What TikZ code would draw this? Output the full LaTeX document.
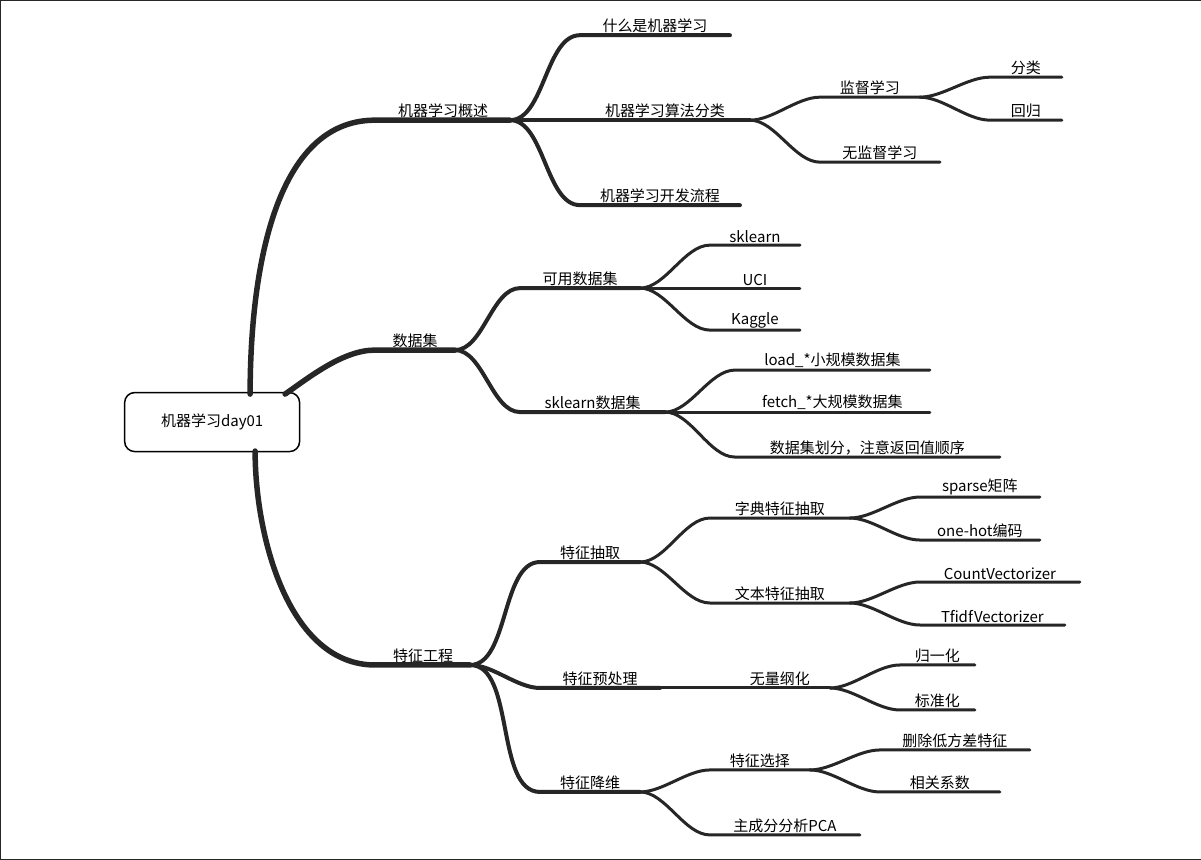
\documentclass[tikz,border=0pt]{standalone}
\usepackage{fontspec}
\setmainfont{Noto Sans CJK SC}
\begin{document}
\begin{tikzpicture}[x=1pt,y=-1pt,
  lbl/.style={anchor=south,inner sep=2pt,font=\fontsize{15}{17}\selectfont},
  wA/.style={line width=5.5pt},wB/.style={line width=4pt},wC/.style={line width=3pt},
  every path/.style={draw=black!85,line cap=round}]
\useasboundingbox (0,0) rectangle (1201,859);
\newcommand\mmbr[8]{% style parent name x1 x2 y text
  \coordinate (#3s) at (#4,#6); \coordinate (#3) at (#5,#6);
  \draw[#1] (#2) to[out=0,in=180,looseness=#8] (#3s) -- (#3);
  \node[lbl] (#3t) at ({(#4+#5)/2},#6) {#7};}
\node[draw=black,line width=1.5pt,rounded corners=10pt,minimum width=175pt,minimum height=59pt,font=\fontsize{15}{17}\selectfont] (root) at (212,422) {机器学习day01};
% level 1
\coordinate (a1s) at (375,120); \coordinate (a1) at (510,120);
\draw[wA] (250,394) to[out=90,in=180,looseness=0.9] (a1s) -- (a1);
\node[lbl] at (443,120) {机器学习概述};
\coordinate (a2s) at (375,350); \coordinate (a2) at (455,350);
\draw[wA] (285,394) to[out=35,in=180,looseness=0.8] (a2s) -- (a2);
\node[lbl] at (415,350) {数据集};
\coordinate (a3s) at (375,665); \coordinate (a3) at (470,665);
\draw[wA] (255,451) to[out=-90,in=180,looseness=0.9] (a3s) -- (a3);
\node[lbl] at (423,665) {特征工程};
% 概述
\mmbr{wB}{a1}{b1}{580}{730}{35}{什么是机器学习}{0.8}
\mmbr{wB}{a1}{b2}{580}{750}{120}{机器学习算法分类}{0.8}
\mmbr{wB}{a1}{b3}{580}{740}{205}{机器学习开发流程}{0.8}
\mmbr{wC}{b2}{c1}{820}{920}{97}{监督学习}{0.8}
\mmbr{wC}{b2}{c2}{820}{940}{162}{无监督学习}{0.8}
\mmbr{wC}{c1}{d1}{990}{1062}{77}{分类}{0.8}
\mmbr{wC}{c1}{d2}{990}{1062}{120}{回归}{0.8}
% 数据集
\mmbr{wB}{a2}{b4}{520}{640}{288}{可用数据集}{0.8}
\mmbr{wB}{a2}{b5}{520}{665}{412}{sklearn数据集}{0.8}
\mmbr{wC}{b4}{c3}{710}{800}{245}{sklearn}{0.8}
\mmbr{wC}{b4}{c4}{710}{800}{288}{UCI}{0.8}
\mmbr{wC}{b4}{c5}{710}{800}{330}{Kaggle}{0.8}
\mmbr{wC}{b5}{c6}{735}{930}{370}{load\_*小规模数据集}{0.8}
\mmbr{wC}{b5}{c7}{735}{930}{412}{fetch\_*大规模数据集}{0.8}
\mmbr{wC}{b5}{c8}{735}{1000}{457}{数据集划分，注意返回值顺序}{0.8}
% 特征工程
\mmbr{wB}{a3}{b6}{540}{640}{562}{特征抽取}{0.8}
\mmbr{wB}{a3}{b7}{540}{660}{688}{特征预处理}{0.8}
\mmbr{wB}{a3}{b8}{540}{640}{792}{特征降维}{0.8}
\mmbr{wC}{b6}{c9}{710}{850}{518}{字典特征抽取}{0.8}
\mmbr{wC}{b6}{c10}{710}{850}{603}{文本特征抽取}{0.8}
\mmbr{wC}{c9}{d3}{920}{1040}{497}{sparse矩阵}{0.8}
\mmbr{wC}{c9}{d4}{920}{1040}{540}{one-hot编码}{0.8}
\mmbr{wC}{c10}{d5}{920}{1080}{582}{CountVectorizer}{0.8}
\mmbr{wC}{c10}{d6}{920}{1065}{625}{TfidfVectorizer}{0.8}
\coordinate (c11) at (830,688);
\draw[wC] (b7) -- (c11);
\node[lbl] at (780,688) {无量纲化};
\mmbr{wC}{c11}{d7}{900}{975}{665}{归一化}{0.8}
\mmbr{wC}{c11}{d8}{900}{975}{710}{标准化}{0.8}
\mmbr{wC}{b8}{c12}{710}{810}{770}{特征选择}{0.8}
\mmbr{wC}{b8}{c13}{710}{860}{835}{主成分分析PCA}{0.8}
\mmbr{wC}{c12}{d9}{880}{1030}{750}{删除低方差特征}{0.8}
\mmbr{wC}{c12}{d10}{880}{1000}{792}{相关系数}{0.8}
\end{tikzpicture}
\end{document}
